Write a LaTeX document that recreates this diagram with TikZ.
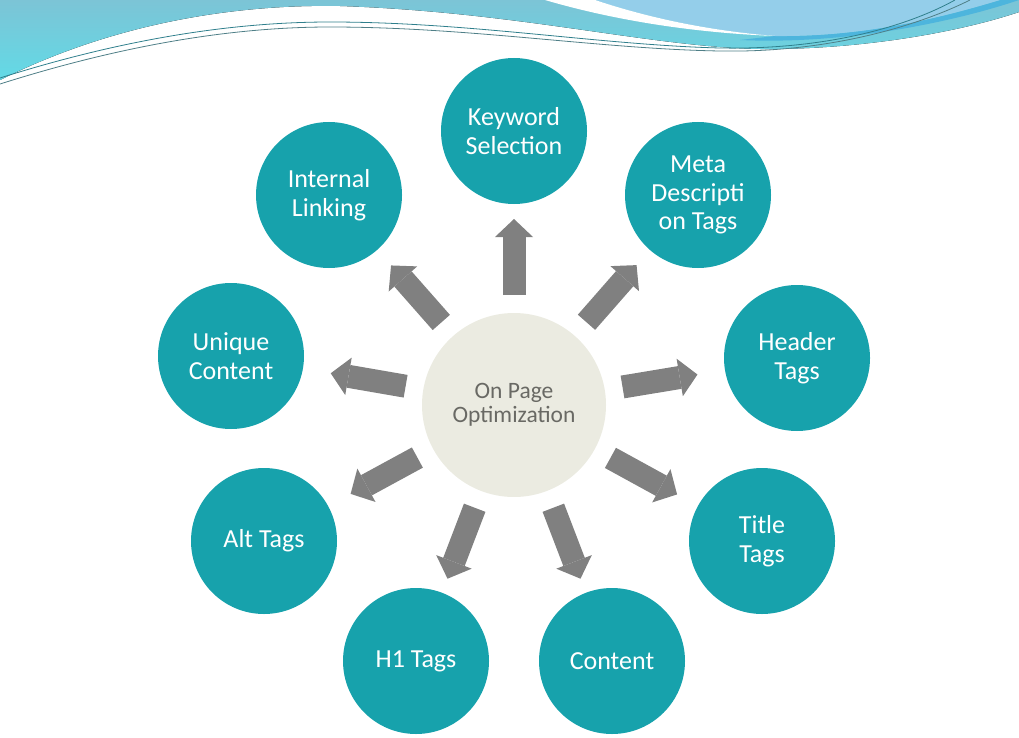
\documentclass[tikz,border=0pt]{standalone}
\usepackage{fontspec}
\newfontfamily\carl{Carlito}
\usetikzlibrary{arrows.meta,calc}
\definecolor{teal1}{RGB}{23,162,172}
\definecolor{centerfill}{RGB}{235,235,225}
\definecolor{arrgray}{RGB}{128,128,128}
\definecolor{ctext}{RGB}{105,105,100}
\definecolor{wavetop}{RGB}{124,196,214}
\definecolor{wavebot}{RGB}{98,218,230}
\definecolor{lightblue}{RGB}{148,206,234}
\definecolor{darkband}{RGB}{77,181,221}
\definecolor{linecol}{RGB}{47,127,140}
\tikzset{
  topic/.style={circle, fill=teal1, minimum size=146pt, inner sep=0pt, text=white, align=center,
    font=\carl\fontsize{26}{28.5}\selectfont},
  hub/.style={circle, fill=centerfill, minimum size=184pt, inner sep=0pt, text=ctext, align=center,
    font=\carl\fontsize{23.5}{24.5}\selectfont},
  arr/.style={draw=arrgray, line width=23pt, -{Triangle[length=18pt,width=38pt,line width=0pt]}},
  waveline/.style={draw=linecol, line width=0.8pt}
}
\begin{document}
\begin{tikzpicture}[x=1pt,y=-1pt]
\useasboundingbox (0,0) rectangle (1019,738);
% background wave
\fill[top color=wavetop, bottom color=wavebot]
  (0,0) -- (1019,0) -- (1019,12) .. controls (960,32) and (860,50) .. (760,49)
  .. controls (650,47) and (520,12) .. (340,6) .. controls (230,4) and (110,25) .. (0,80) -- cycle;
\fill[darkband] (740,40) .. controls (850,45) and (960,20) .. (1019,0) -- (1000,0)
  .. controls (950,15) and (870,37) .. (775,36) -- cycle;
\fill[lightblue] (595,0) .. controls (640,15) and (700,30) .. (775,36)
  .. controls (870,37) and (950,15) .. (1000,0) -- cycle;
\fill[white] (545,0) .. controls (620,22) and (700,33) .. (775,36)
  .. controls (700,30) and (640,15) .. (595,0) -- cycle;
\draw[waveline] (0,78) .. controls (120,40) and (230,22) .. (330,22)
  .. controls (470,22) and (600,45) .. (720,48) .. controls (830,50) and (910,25) .. (955,0);
\draw[waveline, draw=linecol!60!gray] (0,84) .. controls (120,46) and (230,27) .. (330,27)
  .. controls (470,27) and (600,49) .. (720,51) .. controls (830,53) and (920,25) .. (970,0);
% nodes
\node[hub] (c) at (514,405) {On Page\\Optimization};
\node[topic] (k) at (514,131) {Keyword\\Selection};
\node[topic] (m) at (698,195) {Meta\\Descripti\\on Tags};
\node[topic] (h) at (797,358) {Header\\Tags};
\node[topic] (t) at (762,541) {Title\\Tags};
\node[topic] (co) at (612,661) {Content};
\node[topic] (h1) at (416,661) {H1 Tags};
\node[topic] (al) at (264,541) {Alt Tags};
\node[topic] (u) at (231,356) {Unique\\Content};
\node[topic] (il) at (329,195) {Internal\\Linking};
% arrows
\foreach \n in {k,m,h,t,co,h1,al,u,il}{
  \draw[arr] ($(c.center)!110pt!(\n.center)$) -- ($(c.center)!186pt!(\n.center)$);
}
\end{tikzpicture}
\end{document}
